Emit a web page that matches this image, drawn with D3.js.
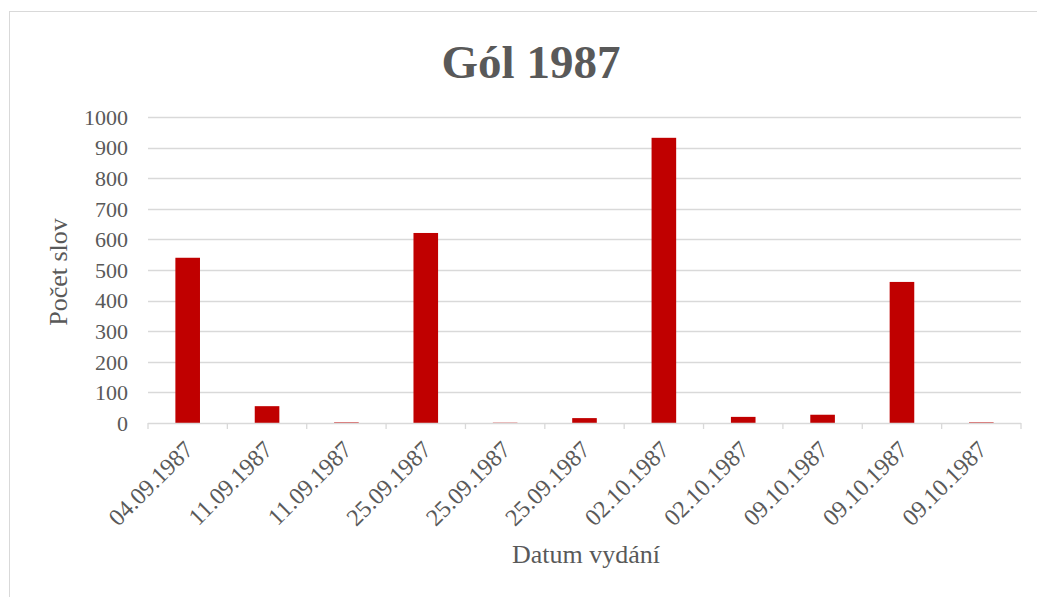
<!DOCTYPE html>
<html>
<head>
<meta charset="utf-8">
<script src="https://d3js.org/d3.v7.min.js"></script>
<style>
  body { margin: 0; background: #fff; }
  text { font-family: "Liberation Serif", "Times New Roman", serif; }
</style>
</head>
<body>
<script>
// data
const dates = ["04.09.1987", "11.09.1987", "11.09.1987", "25.09.1987", "25.09.1987", "25.09.1987",
               "02.10.1987", "02.10.1987", "09.10.1987", "09.10.1987", "09.10.1987"];
const words = [540, 55, 2, 621, 1, 16, 932, 20, 27, 461, 2];
const yTicks = [0, 100, 200, 300, 400, 500, 600, 700, 800, 900, 1000];

const width = 1037, height = 597;
const margin = {top: 117, right: 16, bottom: 174, left: 148};

const svg = d3.select("body").append("svg")
    .attr("width", width)
    .attr("height", height);

// chart frame
svg.append("rect")
    .attr("x", 9.5).attr("y", 11.5)
    .attr("width", 1040).attr("height", 600)
    .attr("fill", "#fff")
    .attr("stroke", "#d9d9d9");

const ids = dates.map((d, i) => i);
const x = d3.scaleBand()
    .domain(ids)
    .range([margin.left, width - margin.right])
    .paddingInner(0.69)
    .paddingOuter(0.345);

const y = d3.scaleLinear()
    .domain([0, 1000])
    .range([height - margin.bottom, margin.top]);

// gridlines
svg.append("g")
    .selectAll("line")
    .data(yTicks.slice(1))
    .join("line")
    .attr("x1", margin.left).attr("x2", width - margin.right)
    .attr("y1", d => Math.round(y(d)) + 0.5).attr("y2", d => Math.round(y(d)) + 0.5)
    .attr("stroke", "#d9d9d9").attr("stroke-width", 1.3);

// y axis labels
svg.append("g")
    .selectAll("text")
    .data(yTicks)
    .join("text")
    .attr("x", margin.left - 20)
    .attr("y", d => y(d))
    .attr("dy", "0.35em")
    .attr("text-anchor", "end")
    .attr("fill", "#595959")
    .style("font-size", "22px")
    .text(d => d);

// bars
svg.append("g")
    .selectAll("rect")
    .data(words)
    .join("rect")
    .attr("x", (d, i) => x(i))
    .attr("width", x.bandwidth())
    .attr("y", d => y(d))
    .attr("height", d => y(0) - y(d))
    .attr("fill", "#c00000");

// x axis
const step = x.step();
const xAxis = svg.append("g");
xAxis.append("line")
    .attr("x1", margin.left).attr("x2", width - margin.right)
    .attr("y1", y(0) + 0.5).attr("y2", y(0) + 0.5)
    .attr("stroke", "#d9d9d9").attr("stroke-width", 1.3);
xAxis.selectAll(".tk")
    .data(d3.range(dates.length + 1))
    .join("line")
    .attr("class", "tk")
    .attr("x1", i => margin.left + i * step).attr("x2", i => margin.left + i * step)
    .attr("y1", y(0)).attr("y2", y(0) + 6)
    .attr("stroke", "#d9d9d9").attr("stroke-width", 1.3);

xAxis.selectAll("text")
    .data(dates)
    .join("text")
    .attr("transform", (d, i) => `translate(${x(i) + x.bandwidth() / 2 + 1},${y(0) + 22}) rotate(-45)`)
    .attr("text-anchor", "end")
    .attr("dy", "0.35em")
    .attr("fill", "#595959")
    .style("font-size", "24px")
    .text(d => d);

// titles
svg.append("text")
    .attr("x", 531).attr("y", 78)
    .attr("text-anchor", "middle")
    .attr("fill", "#595959")
    .style("font-size", "47px")
    .style("font-weight", "bold")
    .text("Gól 1987");

svg.append("text")
    .attr("transform", `translate(67,${(y(0) + y(1000)) / 2 + 2}) rotate(-90)`)
    .attr("text-anchor", "middle")
    .attr("fill", "#595959")
    .style("font-size", "26px")
    .text("Počet slov");

svg.append("text")
    .attr("x", 586).attr("y", 563)
    .attr("text-anchor", "middle")
    .attr("fill", "#595959")
    .style("font-size", "26px")
    .text("Datum vydání");
</script>
</body>
</html>
